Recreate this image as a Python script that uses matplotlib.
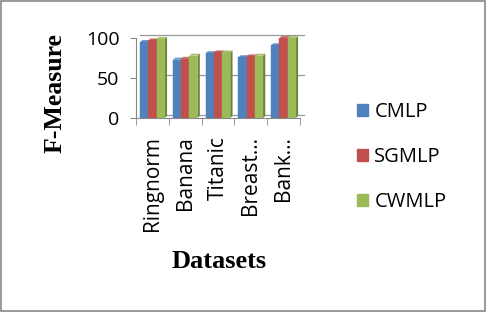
import matplotlib
matplotlib.use("Agg")
import matplotlib.pyplot as plt
import numpy as np
from matplotlib.patches import Rectangle, Polygon
from matplotlib.transforms import ScaledTranslation
import matplotlib.colors as mcolors

categories = ["Ringnorm", "Banana", "Titanic", "Breast…", "Bank…"]
series_names = ["CMLP", "SGMLP", "CWMLP"]
cmlp = [95, 73, 81, 76, 91]
sgmlp = [97, 74, 82, 77, 100]
cwmlp = [99, 78, 82, 78, 100]
yticks = [0, 50, 100]

colors = ["#4F81BD", "#C0504D", "#9BBB59"]
values = [cmlp, sgmlp, cwmlp]


def shade(c, f):
    r, g, b = mcolors.to_rgb(c)
    if f < 1:
        return (r * f, g * f, b * f)
    return (r + (1 - r) * (f - 1), g + (1 - g) * (f - 1), b + (1 - b) * (f - 1))


fig = plt.figure(figsize=(4.86, 3.12), dpi=100)
fig.patches.append(Rectangle((0.002, 0.003), 0.995, 0.994, transform=fig.transFigure,
                             fill=False, edgecolor="#888888", linewidth=1.2))

ax = fig.add_axes([0.280, 0.622, 0.337, 0.256])
x = np.arange(len(categories))
w = 0.25
dx, dy = 0.07, 2.5
for i, (vals, c) in enumerate(zip(values, colors)):
    xs = x + (i - 1) * w
    for xc, v in zip(xs, vals):
        side = Polygon([(xc + w / 2, 0), (xc + w / 2 + dx, dy), (xc + w / 2 + dx, v + dy), (xc + w / 2, v)],
                       closed=True, facecolor=shade(c, 0.7), edgecolor="none", zorder=3, clip_on=False)
        top = Polygon([(xc - w / 2, v), (xc - w / 2 + dx, v + dy), (xc + w / 2 + dx, v + dy), (xc + w / 2, v)],
                      closed=True, facecolor=shade(c, 1.15), edgecolor="none", zorder=3, clip_on=False)
        ax.add_patch(side)
        ax.add_patch(top)
    ax.bar(xs, vals, width=w, color=c, edgecolor=c, linewidth=0.3, zorder=3)

ax.set_xlim(-0.5, len(categories) - 0.5)
ax.set_ylim(0, 100)
ax.set_yticks(yticks)
ax.set_yticklabels([str(v) for v in yticks], fontsize=14, family="Open Sans")
ax.set_xticks(x)
ax.set_xticklabels(categories, rotation=90, fontsize=15, family="Open Sans")
ax.tick_params(axis="x", length=0, pad=13)
ax.tick_params(axis="y", length=4, color="#888888", pad=8)
ax.set_xticks(np.arange(len(categories) + 1) - 0.5, minor=True)
ax.tick_params(axis="x", which="minor", length=5, color="#888888")
ax.grid(axis="y", color="#999999", linewidth=0.9, zorder=0)
off = ScaledTranslation(4 / 100, 3 / 100, fig.dpi_scale_trans)
for gl in ax.get_ygridlines():
    gl.set_transform(gl.get_transform() + off)
    gl.set_clip_on(False)
for s in ["top", "right"]:
    ax.spines[s].set_visible(False)
ax.spines["left"].set_color("#888888")
ax.spines["bottom"].set_color("#888888")

fig.text(55 / 486, 1 - 93 / 312, "F-Measure", rotation=90, ha="center", va="center",
         family="Liberation Serif", fontweight="bold", fontsize=18.5)
fig.text(219 / 486, 1 - 262 / 312, "Datasets", ha="center", va="center",
         family="Liberation Serif", fontweight="bold", fontsize=19)

handles = [Rectangle((0, 0), 1, 1, color=c) for c in colors]
fig.legend(handles, series_names, loc="center left", bbox_to_anchor=(0.735, 0.497),
           frameon=False, prop={"family": "Open Sans", "size": 14.5},
           borderpad=0, borderaxespad=0,
           handlelength=0.55, handleheight=0.55, handletextpad=0.3, labelspacing=1.25)

fig.savefig("out.png", dpi=100)
